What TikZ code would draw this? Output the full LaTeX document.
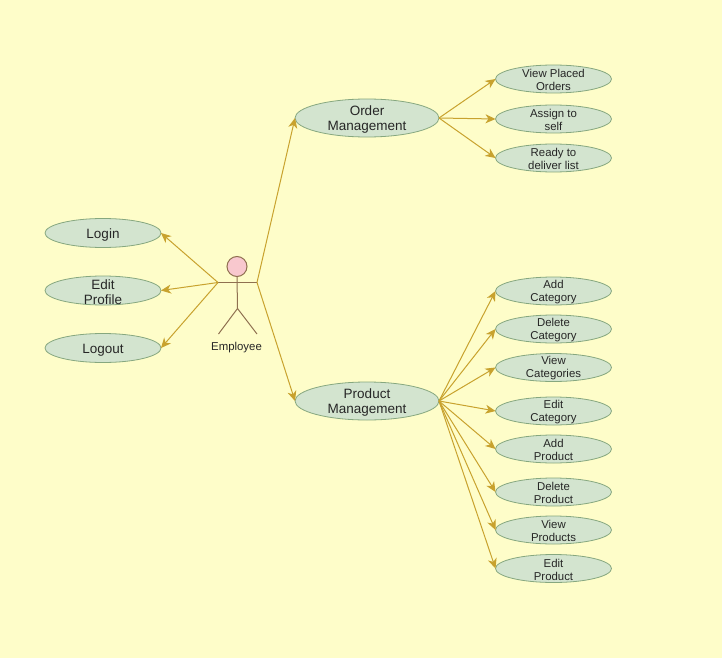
\documentclass[tikz,border=0pt]{standalone}
\usepackage{fontspec}
\setmainfont{Liberation Sans}
\usetikzlibrary{shapes.geometric,arrows.meta}
\definecolor{bgc}{HTML}{FEFDC9}
\definecolor{ufill}{HTML}{D3E4CF}
\definecolor{uline}{HTML}{86A77F}
\definecolor{edgec}{HTML}{C8A22E}
\definecolor{actorc}{HTML}{8F7050}
\definecolor{headc}{HTML}{F8C8CE}
\tikzset{
  usecase/.style={ellipse,draw=uline,fill=ufill,line width=0.8pt,inner sep=0pt,outer sep=0pt},
  smallcase/.style={usecase,minimum width=116pt,minimum height=28pt,
     label={[font=\fontsize{11.4}{13}\selectfont,align=center,text=black!85,yshift=-1pt]center:#1}},
  midcase/.style={usecase,minimum width=116pt,minimum height=29pt,
     label={[font=\fontsize{13.5}{15}\selectfont,align=center,text=black!85,yshift=-1.8pt]center:#1}},
  bigcase/.style={usecase,minimum width=144pt,minimum height=38pt,
     label={[font=\fontsize{13.5}{15}\selectfont,align=center,text=black!85,yshift=-1.8pt]center:#1}},
  conn/.style={draw=edgec,line width=1pt,-{Stealth[length=10pt,width=9pt,inset=3pt]}},
  actorline/.style={draw=actorc,line width=1pt},
}
\begin{document}
\begin{tikzpicture}[x=1pt,y=-1pt]
\fill[bgc] (0,0) rectangle (722,658);
\useasboundingbox (0,0) rectangle (722,658);
% left use cases
\node[midcase={Login}] (login) at (103,233) {};
\node[midcase={Edit\\Profile}] (edit) at (103,290.5) {};
\node[midcase={Logout}] (logout) at (103,348) {};
% actor
\node[circle,draw=actorc,fill=headc,line width=1pt,minimum size=20pt,inner sep=0pt] (head) at (237,266.5) {};
\coordinate (handL) at (218,282.5);
\coordinate (handR) at (257,282.5);
\coordinate (hip) at (237.5,308.5);
\coordinate (footL) at (218.5,334);
\coordinate (footR) at (257,334);
\draw[actorline] (head.south) -- (hip);
\draw[actorline] (handL) -- (handR);
\draw[actorline] (footL) -- (hip) -- (footR);
\node[font=\fontsize{11.4}{13}\selectfont,text=black!85] (emp) at (236.5,347.5) {Employee};
% main use cases
\node[bigcase={Order\\Management}] (order) at (367,118) {};
\node[bigcase={Product\\Management}] (product) at (367,401) {};
% right use cases
\node[smallcase={View Placed\\Orders}] (view) at (553.5,79) {};
\node[smallcase={Assign to\\self}] (assign) at (553.5,119) {};
\node[smallcase={Ready to\\deliver list}] (ready) at (553.5,158) {};
\node[smallcase={Add\\Category}] (addcat) at (553.5,291) {};
\node[smallcase={Delete\\Category}] (delcat) at (553.5,329) {};
\node[smallcase={View\\Categories}] (viewcat) at (553.5,367.5) {};
\node[smallcase={Edit\\Category}] (editcat) at (553.5,411) {};
\node[smallcase={Add\\Product}] (addprod) at (553.5,449) {};
\node[smallcase={Delete\\Product}] (delprod) at (553.5,492) {};
\node[smallcase={View\\Products}] (viewprod) at (553.5,530) {};
\node[smallcase={Edit\\Product}] (editprod) at (553.5,568.5) {};
% connectors
\draw[conn] (handL) -- (login.east);
\draw[conn] (handL) -- (edit.east);
\draw[conn] (handL) -- (logout.east);
\draw[conn] (handR) -- (order.west);
\draw[conn] (handR) -- (product.west);
\foreach \t in {view,assign,ready}
  \draw[conn] (order.east) -- (\t.west);
\foreach \t in {addcat,delcat,viewcat,editcat,addprod,delprod,viewprod,editprod}
  \draw[conn] (product.east) -- (\t.west);
\end{tikzpicture}
\end{document}
